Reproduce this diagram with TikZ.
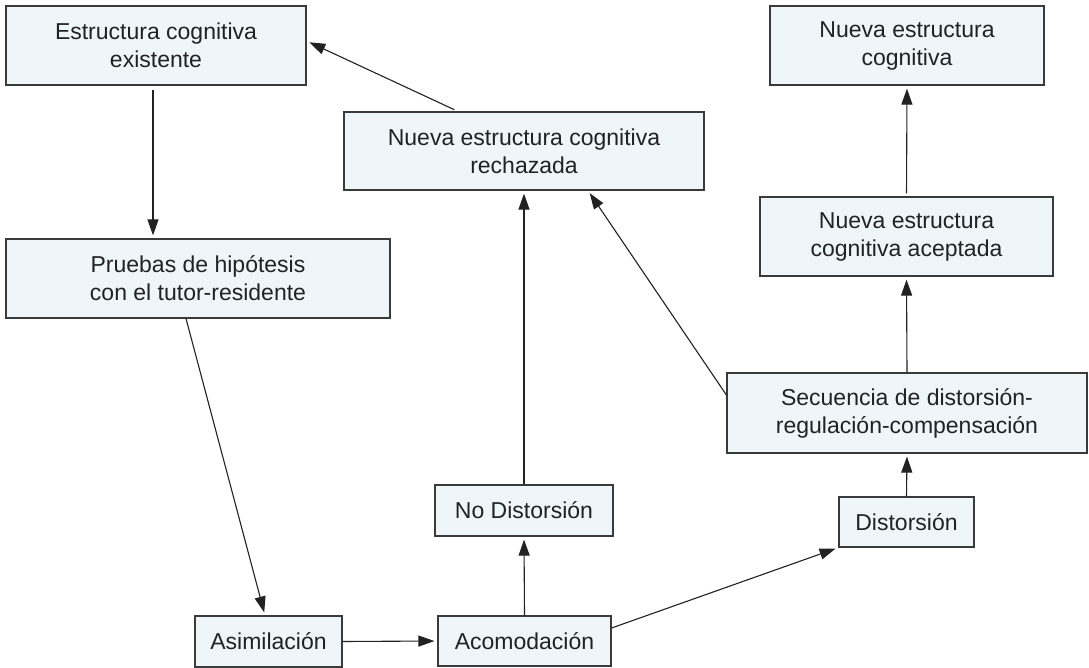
\documentclass[tikz,border=0pt]{standalone}
\usepackage{fontspec}
\setmainfont{Liberation Sans}
\usetikzlibrary{arrows.meta}
\definecolor{boxfill}{HTML}{EEF6FA}
\definecolor{boxdraw}{HTML}{3A3A3A}
\definecolor{ink}{HTML}{222222}
\begin{document}
\begin{tikzpicture}[x=1pt,y=-1pt,
  box/.style={draw=boxdraw, fill=boxfill, line width=1.2pt, align=center, inner sep=0pt,
              font=\fontsize{23}{28}\selectfont, text=ink},
  conn/.style={-{Triangle[length=16pt,width=11pt]}, line width=1.1pt, draw=ink, shorten >=3pt}]
\useasboundingbox (0,0) rectangle (1089,668);
\fill[white] (0,0) rectangle (1089,668);

\node[box, minimum width=300pt, minimum height=79pt] (exist) at (156,45.5) {Estructura cognitiva\\existente};
\node[box, minimum width=360pt, minimum height=78pt] (rech) at (524,151) {Nueva estructura cognitiva\\rechazada};
\node[box, minimum width=274pt, minimum height=79pt] (nueva) at (907,45.5) {Nueva estructura\\cognitiva};
\node[box, minimum width=384pt, minimum height=79pt] (pruebas) at (198,278.5) {Pruebas de hipótesis\\con el tutor-residente};
\node[box, minimum width=293pt, minimum height=79pt] (acep) at (906.5,236.5) {Nueva estructura\\cognitiva aceptada};
\node[box, minimum width=360pt, minimum height=80pt] (sec) at (907,413) {Secuencia de distorsión-\\regulación-compensación};
\node[box, minimum width=178pt, minimum height=51pt] (nodist) at (524,510.5) {No Distorsión};
\node[box, minimum width=135pt, minimum height=50pt] (dist) at (906.5,522) {Distorsión};
\node[box, minimum width=147pt, minimum height=51pt] (asim) at (268.5,641.5) {Asimilación};
\node[box, minimum width=173pt, minimum height=50pt] (acom) at (524.5,641) {Acomodación};

\draw[conn, shorten <=4pt] ([xshift=-3pt]exist.south) -- ([xshift=-3pt]exist.south |- pruebas.north);
\draw[conn, shorten <=4pt] ([xshift=-66pt]rech.north) -- ([yshift=4.5pt]exist.east);
\draw[conn] ([xshift=-12pt]pruebas.south) -- ([xshift=-3.5pt]asim.north);
\draw[conn] (asim.east) -- (acom.west);
\draw[conn] (acom.north) -- (nodist.south);
\draw[conn] (nodist.north) -- (rech.south);
\draw[conn] ([yshift=13pt]acom.east) -- (dist.south west);
\draw[conn] (dist.north) -- (sec.south);
\draw[conn] ([yshift=18pt]sec.west) -- ([xshift=64pt]rech.south);
\draw[conn] (sec.north) -- (acep.south);
\draw[conn, shorten <=3pt] (acep.north) -- (nueva.south);
\end{tikzpicture}
\end{document}
